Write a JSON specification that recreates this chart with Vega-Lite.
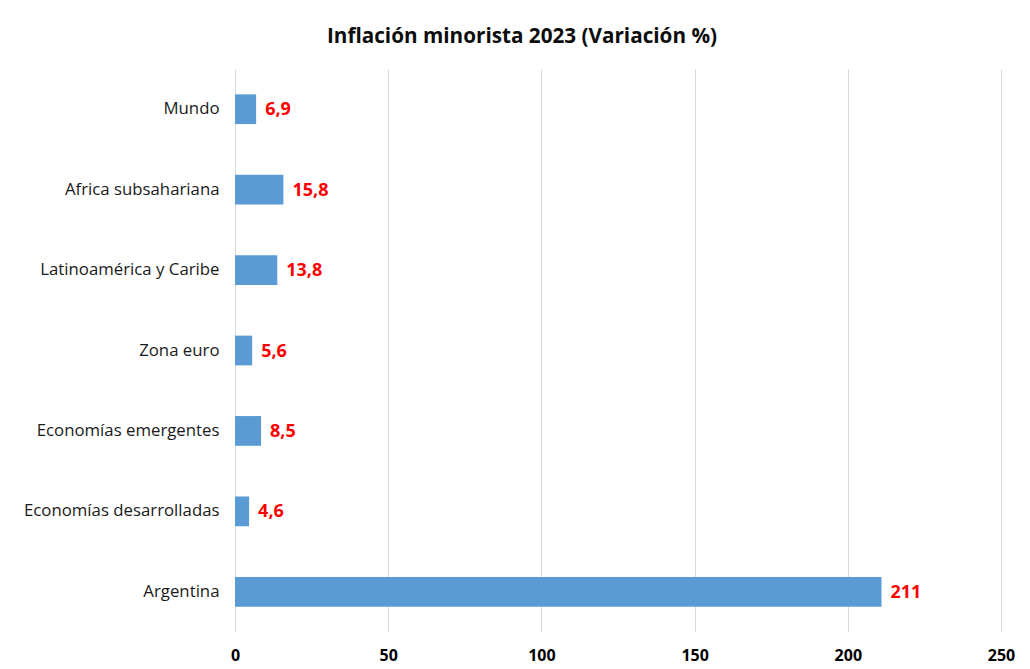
{
  "$schema": "https://vega.github.io/schema/vega-lite/v6.json",
  "width": 766,
  "height": 563,
  "autosize": {"type": "none"},
  "padding": {"left": 235, "top": 69, "right": 29, "bottom": 37},
  "background": "white",
  "config": {
    "view": {"stroke": null},
    "locale": {"number": {"decimal": ",", "thousands": ".", "grouping": [3], "currency": ["", " €"]}}
  },
  "title": {
    "text": "Inflación minorista 2023 (Variación %)",
    "font": "Open Sans",
    "fontSize": 20.7,
    "fontWeight": "bold",
    "color": "#0d0d0d",
    "anchor": "middle",
    "frame": "group",
    "dx": -96,
    "offset": 21
  },
  "data": {
    "values": [
      {"region": "Mundo", "valor": 6.9},
      {"region": "Africa subsahariana", "valor": 15.8},
      {"region": "Latinoamérica y Caribe", "valor": 13.8},
      {"region": "Zona euro", "valor": 5.6},
      {"region": "Economías emergentes", "valor": 8.5},
      {"region": "Economías desarrolladas", "valor": 4.6},
      {"region": "Argentina", "valor": 211}
    ]
  },
  "encoding": {
    "y": {
      "field": "region",
      "type": "nominal",
      "sort": null,
      "title": null,
      "scale": {"paddingInner": 0.63, "paddingOuter": 0.315},
      "axis": {
        "domain": false,
        "ticks": false,
        "labelFont": "Open Sans",
        "labelFontSize": 16.8,
        "labelColor": "#1a1a1a",
        "labelPadding": 16,
        "labelLimit": 300
      }
    },
    "x": {
      "field": "valor",
      "type": "quantitative",
      "title": null,
      "scale": {"domain": [0, 250], "nice": false},
      "axis": {
        "values": [0, 50, 100, 150, 200, 250],
        "domain": false,
        "ticks": false,
        "grid": true,
        "gridColor": "#d9d9d9",
        "gridWidth": 1,
        "labelFlush": false,
        "labelFont": "Open Sans",
        "labelFontSize": 16,
        "labelFontWeight": "bold",
        "labelColor": "#000000",
        "labelPadding": 15,
        "format": "d"
      }
    }
  },
  "layer": [
    {"mark": {"type": "bar", "color": "#5b9bd5"}},
    {
      "mark": {"type": "text", "align": "left", "baseline": "middle", "dx": 9, "dy": 1, "font": "Open Sans", "fontSize": 18, "fontWeight": "bold", "color": "#ff0000"},
      "encoding": {"text": {"field": "valor", "type": "quantitative", "format": ".1~f"}}
    }
  ]
}
